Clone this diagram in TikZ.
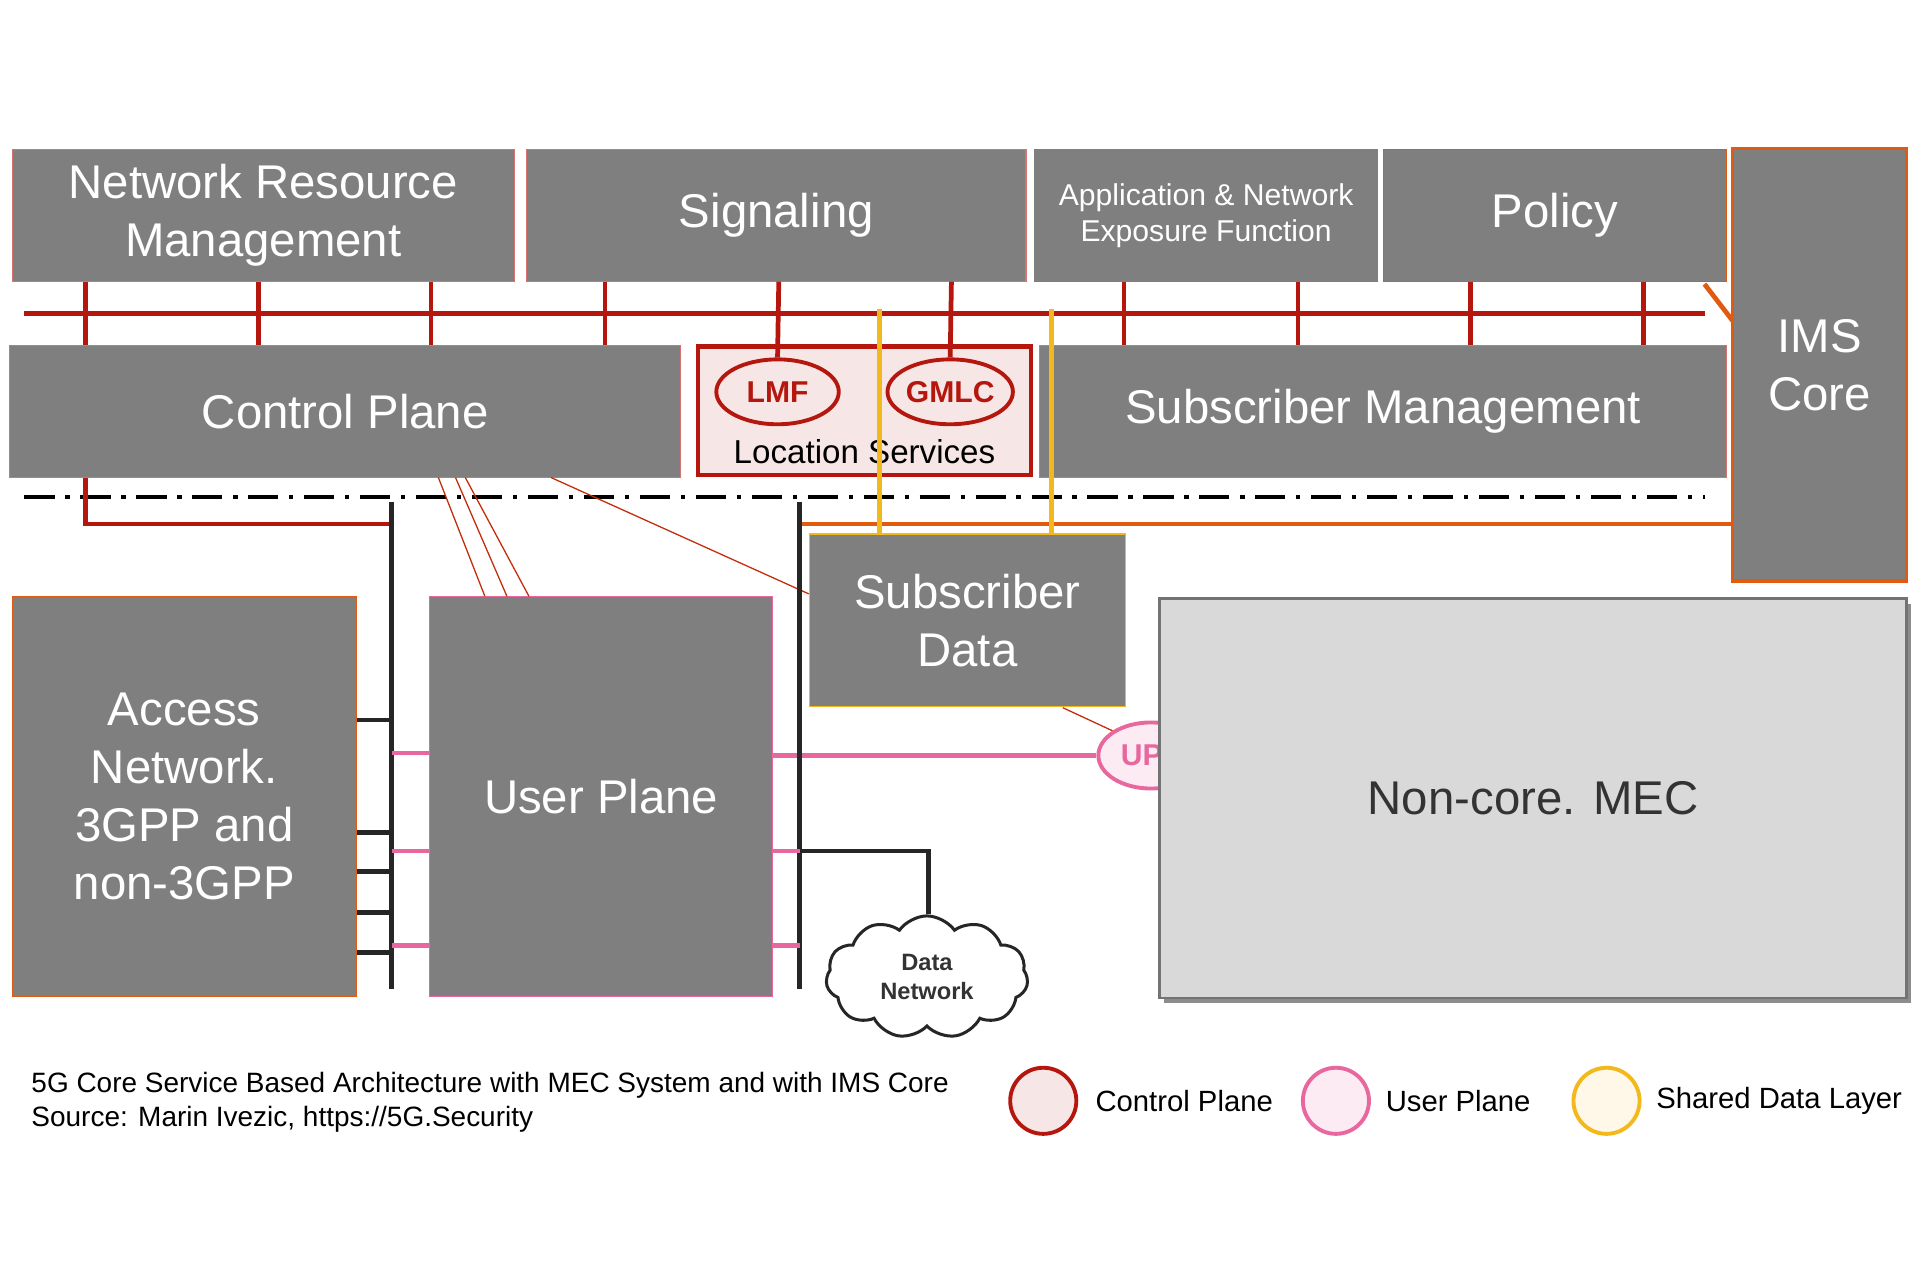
\documentclass[tikz,border=0pt]{standalone}
\usepackage{fontspec}
\setmainfont{Liberation Sans}
\usetikzlibrary{shapes.geometric,shapes.symbols}
\definecolor{bgray}{HTML}{7F7F7F}
\definecolor{cred}{HTML}{B5170E}
\definecolor{corange}{HTML}{E05A10}
\definecolor{cyel}{HTML}{F2B81C}
\definecolor{cpink}{HTML}{E8679F}
\definecolor{lpink}{HTML}{F6E6E6}
\definecolor{lupink}{HTML}{FCEBF3}
\definecolor{lyel}{HTML}{FFF8E8}
\definecolor{mecgray}{HTML}{D9D9D9}
\begin{document}
\begin{tikzpicture}[x=0.1mm,y=-0.1mm,
  box/.style={draw=#1,line width=0.3pt,fill=bgray,text=white,inner sep=0pt,align=center,font=\fontsize{11}{13.5}\selectfont},
  box/.default=bgray,
  red/.style={draw=cred,line width=1.1pt},
  pk/.style={draw=cpink,line width=1.1pt},
  blk/.style={draw=black!85,line width=1.1pt},
  thin/.style={draw=cred!80!orange,line width=0.3pt},
  ell/.style={ellipse,draw=cred,line width=0.9pt,fill=lpink,text=cred,font=\bfseries\fontsize{7}{8}\selectfont,minimum width=10mm,minimum height=5.3mm,inner sep=0pt},
  leg/.style={circle,line width=0.9pt,minimum size=5.4mm,inner sep=0pt},
  legt/.style={anchor=west,inner sep=0pt,font=\fontsize{6.8}{8}\selectfont}]
\useasboundingbox (0,0) rectangle (1568,1045);
% top row
\node[box=cred!60] (nrm) at (215,176) [minimum width=41mm,minimum height=10.8mm] {Network Resource\\Management};
\node[box=cred!60] (sig) at (634,176) [minimum width=40.8mm,minimum height=10.8mm] {Signaling};
\node[box] (aef) at (985,176) [minimum width=28mm,minimum height=10.8mm,font=\fontsize{7}{8.3}\selectfont] {Application \& Network\\Exposure Function};
\node[box=corange] (pol) at (1270,176) [minimum width=28mm,minimum height=10.8mm] {Policy};
\node[box=corange,line width=0.8pt] (ims) at (1486,298) [minimum width=14.2mm,minimum height=35.3mm] {IMS\\Core};
% bus
\coordinate (busL) at (20,256); \coordinate (busR) at (1392,256);
\draw[red] (busL) -- (busR);
% second row
\node[box=cred!60] (cp) at (282,336) [minimum width=54.8mm,minimum height=10.8mm] {Control Plane};
\node[draw=cred,line width=1pt,fill=lpink,minimum width=27.2mm,minimum height=10.5mm,inner sep=0pt] (ls) at (706,335.5) {};
\node[box=cred!60] (sm) at (1129.5,336) [minimum width=56.1mm,minimum height=10.8mm] {Subscriber Management};
\node[ell] (lmf) at (635,320) {LMF};
\node[ell] (gmlc) at (776,320) {GMLC};
\node[font=\fontsize{7.7}{9}\selectfont] (lst) at (706,369) {Location Services};
% red verticals
\foreach \x in {70,211,352} \draw[red] (\x,230) -- (\x,282);
\draw[red] (494,230) -- (494,282);
\draw[red] (636,230) -- (lmf.north);
\draw[red] (777,230) -- (gmlc.north);
\foreach \x in {918,1060,1201,1342} \draw[red] (\x,230) -- (\x,282);
% separator
\coordinate (sepL) at (20,406); \coordinate (sepR) at (1392,406);
\draw[black,line width=0.9pt,dash pattern=on 7pt off 2.5pt on 1pt off 2.5pt] (sepL) -- (sepR);
% lower boxes
\node[box=corange] (an) at (150.5,650.5) [minimum width=28.1mm,minimum height=32.7mm] {Access\\Network.\\3GPP and\\non-3GPP};
\node[box=cpink] (up) at (491,650.5) [minimum width=28mm,minimum height=32.7mm] {User Plane};
\node[box=cyel] (sd) at (790,506.5) [minimum width=25.8mm,minimum height=14.1mm] {Subscriber\\Data};
% ims lines
\coordinate (vL) at (320,410); \coordinate (vLb) at (320,808);
\coordinate (vR) at (653,410); \coordinate (vRb) at (653,808);
\draw[red] (70,390) -- (70,428) -- (320,428);
\draw[corange,line width=1.1pt] (653,428) -- (ims.west |- 0,428);
\draw[corange,line width=1.1pt] (1392,232) -- (1415,262);
\draw[cyel,line width=1.1pt] (718,252) -- (sd.north -| 718,0);
\draw[cyel,line width=1.1pt] (859,252) -- (sd.north -| 859,0);
% thin lines
\draw[thin] (358,390) -- (396,487);
\draw[thin] (372,390) -- (414,487);
\draw[thin] (380,390) -- (432,487);
\draw[thin] (450,390) -- (sd.west |- 0,485);
% UPF
\node[ellipse,draw=cpink,line width=0.9pt,fill=lupink,text=cpink,font=\bfseries\fontsize{7}{8}\selectfont,minimum width=8.6mm,minimum height=5.4mm,inner sep=0pt] (upf) at (940,617) {UPF};
\draw[thin] (868,578) -- (upf.north west);
\draw[pk] (up.east |- 0,617) -- (upf.west);
% MEC box
\fill[black!45] (951,493) rectangle (1561,819);
\node[draw=black!55,line width=0.6pt,fill=mecgray,minimum width=61mm,minimum height=32.6mm,inner sep=0pt,font=\fontsize{11}{13}\selectfont,text=black!80] (mec) at (1252,652) {Non-core. MEC};
% black bus verticals
\draw[blk] (vL) -- (vLb);
\draw[blk] (vR) -- (vRb);
\foreach \y in {588,680,712,745,778} \draw[blk] (an.east |- 0,\y) -- (320,\y);
\foreach \y in {615,695,772} \draw[pk] (320,\y) -- (up.west |- 0,\y);
\foreach \y in {695,772} \draw[pk] (up.east |- 0,\y) -- (653,\y);
% data network
\node[cloud,cloud puffs=11,cloud puff arc=110,aspect=1.6,draw=black!85,line width=0.7pt,fill=white,minimum width=16.5mm,minimum height=10mm,inner sep=0pt,align=center,font=\bfseries\fontsize{5.5}{6.8}\selectfont,text=black!80] (dn) at (757,798) {Data\\Network};
\draw[blk] (653,695) -- (758,695) -- (dn.north -| 758,0);
% caption
\node[anchor=west,align=left,inner sep=0pt,font=\fontsize{6.5}{8}\selectfont] (cap) at (25,900) {5G Core Service Based Architecture with MEC System and with IMS Core\\Source: Marin Ivezic, https://5G.Security};
% legend
\node[leg,draw=cred,fill=lpink] (lg1) at (852,899) {};
\node[legt] (lt1) at (894,899) {Control Plane};
\node[leg,draw=cpink,fill=lupink] (lg2) at (1091,899) {};
\node[legt] (lt2) at (1131,899) {User Plane};
\node[leg,draw=cyel,fill=lyel] (lg3) at (1312,899) {};
\node[legt] (lt3) at (1352,899) {Shared Data Layer};
\end{tikzpicture}
\end{document}
